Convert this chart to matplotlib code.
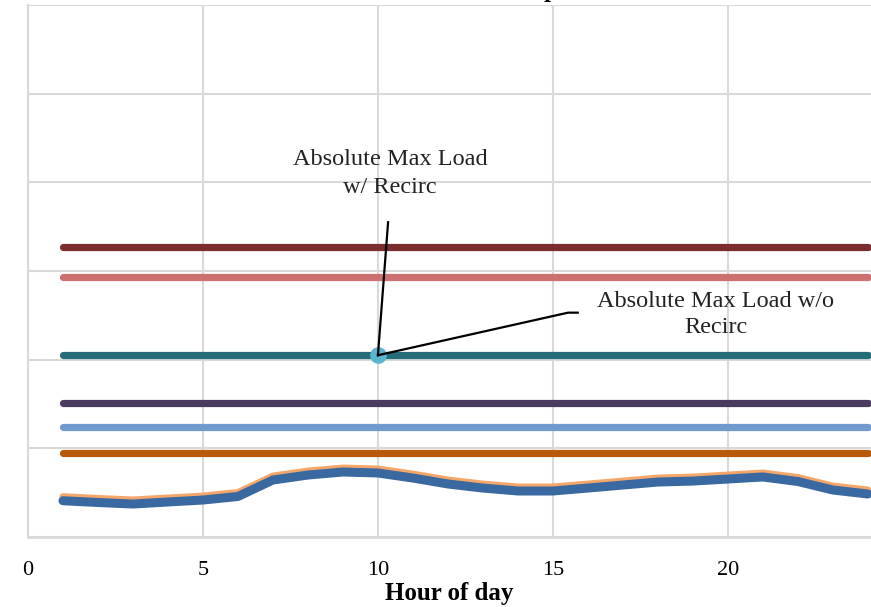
import matplotlib.pyplot as plt

# Hour of day
hours = list(range(1, 25))

# Flat limit lines (value per hour, constant)
max_recirc_hi = 32.7
max_recirc_lo = 29.3
max_no_recirc = 20.5
limit_purple = 15.1
limit_blue = 12.4
limit_orange = 9.5

# Hourly load profiles
load_orange = [4.55, 4.35, 4.18, 4.40, 4.62, 5.02, 6.88, 7.44, 7.78, 7.67, 7.10,
               6.43, 5.97, 5.64, 5.64, 5.97, 6.31, 6.65, 6.76, 6.99, 7.22, 6.71,
               5.75, 5.30]
load_blue = [4.09, 3.89, 3.72, 3.95, 4.17, 4.57, 6.43, 6.99, 7.33, 7.22, 6.65,
             5.98, 5.52, 5.19, 5.19, 5.52, 5.86, 6.20, 6.31, 6.54, 6.77, 6.26,
             5.30, 4.85]

# Annotated point
point_hour = 10
point_value = 20.5

plt.rcParams['font.family'] = ['Liberation Serif', 'DejaVu Serif']

fig = plt.figure(figsize=(8.71, 6.07), dpi=100)
ax = fig.add_axes([28 / 871, 70 / 607, 1 - 28 / 871, 532 / 607])

flat = [
    (max_recirc_hi, '#7B2C2C'),
    (max_recirc_lo, '#CD7070'),
    (max_no_recirc, '#266D7A'),
    (limit_purple, '#4B3B60'),
    (limit_blue, '#6F9ACB'),
    (limit_orange, '#B85A0A'),
]
for val, col in flat:
    ax.plot(hours, [val] * len(hours), color=col, lw=5.2,
            solid_capstyle='round', zorder=3)

ax.plot(hours, load_orange, color='#F5A76A', lw=5, solid_capstyle='round',
        solid_joinstyle='round', zorder=3)
ax.plot(hours, load_blue, color='#3A68A0', lw=6.5, solid_capstyle='round',
        solid_joinstyle='round', zorder=4)

ax.plot([point_hour], [point_value], 'o', color='#5BB4D0', ms=11, zorder=5)

# leader lines
ax.plot([point_hour, 10.29], [point_value, 35.5], color='black', lw=1.6, zorder=6)
ax.plot([point_hour, 15.43, 15.71], [point_value, 25.3, 25.3], color='black',
        lw=1.6, zorder=6)

ax.text(10.34, 41.0, 'Absolute Max Load\nw/ Recirc', ha='center', va='center',
        fontsize=17.5, linespacing=1.45, color='#222222')
ax.text(19.66, 25.1, 'Absolute Max Load w/o\nRecirc', ha='center', va='center',
        fontsize=17.5, linespacing=1.35, color='#222222')

ax.set_xlim(0, 24.09)
ax.set_ylim(0, 60)
ax.set_xticks([0, 5, 10, 15, 20])
ax.set_yticks(range(0, 61, 10))
ax.set_yticklabels([])
ax.tick_params(length=0, labelsize=16, pad=17)
ax.grid(True, color='#D9D9D9', lw=1.5)
ax.set_axisbelow(True)
for s in ['top', 'right']:
    ax.spines[s].set_visible(False)
ax.spines['left'].set_color('#D9D9D9')
ax.spines['bottom'].set_color('#D9D9D9')
ax.spines['left'].set_linewidth(1.5)
ax.spines['bottom'].set_linewidth(2)

ax.set_xlabel('Hour of day', fontsize=18, fontweight='bold', labelpad=2)

# bottom of the chart title, cut by the image edge
fig.text(551 / 871, 1.0 + 3 / 607, 'p', ha='center', va='baseline',
         fontsize=18, fontweight='bold')

fig.savefig('out.png', dpi=100)
